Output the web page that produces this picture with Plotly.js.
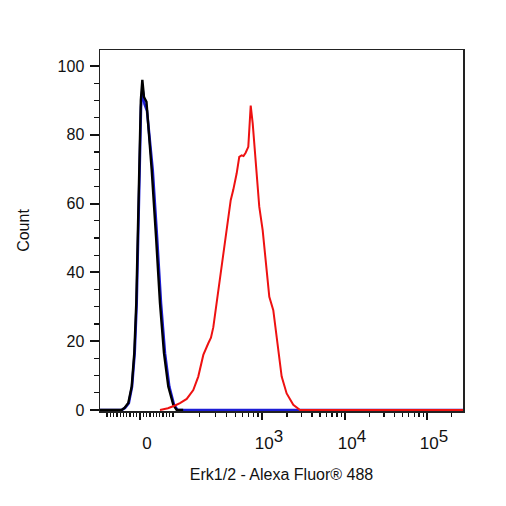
<!DOCTYPE html>
<html>
<head>
<meta charset="utf-8">
<script src="https://cdn.plot.ly/plotly-3.0.1.min.js"></script>
<style>
  html, body { margin: 0; padding: 0; background: #fff; }
  #chart { width: 506px; height: 506px; }
</style>
</head>
<body>
<div id="chart"></div>
<script>
// x values are positions on the biexponential display scale (1 unit ~ one decade, 0 at zero)
const blackX = [-0.482, -0.220, -0.187, -0.141, -0.100, -0.069, -0.045, -0.028, -0.016, -0.008, 0.010, 0.028, 0.048, 0.078, 0.102, 0.141, 0.193, 0.241, 0.289, 0.341, 0.401, 0.442, 0.52];
const blackY = [0, 0, 0.6, 2, 6.8, 16.5, 31, 50.4, 69.8, 79.5, 90, 96, 91, 89.6, 82, 69.8, 50.4, 31, 16.5, 6.8, 1.5, 0, 0];

const blueX = [-0.482, -0.220, -0.181, -0.135, -0.096, -0.064, -0.040, -0.024, -0.012, -0.002, 0.012, 0.030, 0.054, 0.084, 0.114, 0.153, 0.205, 0.253, 0.301, 0.353, 0.410, 0.452, 3.892];
const blueY = [0, 0, 0.6, 2, 6.8, 16.5, 31, 50.4, 69.8, 79.5, 88, 93.5, 89, 87, 80, 69.8, 50.4, 31, 16.5, 6.8, 1.5, 0, 0];

const redX = [0.241, 0.337, 0.422, 0.482, 0.563, 0.642, 0.702, 0.763, 0.823, 0.855, 0.883, 0.943, 0.984, 1.045, 1.093, 1.124, 1.165, 1.196, 1.225, 1.247, 1.273, 1.305, 1.334, 1.358, 1.406, 1.437, 1.478, 1.518, 1.558, 1.606, 1.647, 1.707, 1.767, 1.847, 1.928, 3.892];
const redY = [0, 0.5, 1.3, 2, 3.2, 5.8, 9.7, 16, 19.4, 21, 24, 34.9, 41.7, 52.3, 61, 64, 68.8, 73.6, 74, 73.8, 74.8, 76.5, 88.5, 83.3, 68.8, 59.1, 52.3, 42.6, 32.9, 29, 21.3, 9.7, 4.8, 1.5, 0, 0];

// axis: where each decade sits on the display scale
const decadeValues = [100, 1000, 10000, 100000];
const decadePos = [0.398, 1.470, 2.470, 3.458];
const labelValues = [0, 1000, 10000, 100000];
const labelText = ['0', '10<sup>3</sup>', '10<sup>4</sup>', '10<sup>5</sup>'];
const yTicks = [0, 20, 40, 60, 80, 100];

function scalePos(v) {
  const s = v < 0 ? -1 : 1, a = Math.abs(v);
  if (a <= decadeValues[0]) return s * a / decadeValues[0] * decadePos[0];
  for (let i = 0; i < decadeValues.length; i++) {
    const lo = decadeValues[i], p0 = decadePos[i];
    const p1 = i + 1 < decadePos.length ? decadePos[i + 1] : p0 + (decadePos[i] - decadePos[i - 1]);
    if (a <= lo * 10) return s * (p0 + Math.log10(a / lo) * (p1 - p0));
  }
  return s * decadePos[decadePos.length - 1];
}

const xRange = [-0.482, 3.892];
const majorPos = labelValues.map(scalePos);
// superscript drawn near full size, like the cytometry software does
const majorText = labelText.map(t => t.replace(/<sup>(.*?)<\/sup>/, '<sup><span style="font-size:17px">$1</span></sup>'));

const minorPos = [scalePos(-100), scalePos(100)];
for (let m = 1; m <= 9; m++) { minorPos.push(scalePos(m * 10), scalePos(-m * 10)); }
decadeValues.forEach(d => { for (let m = 2; m <= 9; m++) minorPos.push(scalePos(m * d)); });
const minorIn = minorPos.filter(p => p > xRange[0] && p < xRange[1]);

const font = 'Liberation Sans, Arial, sans-serif';
const ink = '#111';

const traces = [
  { type: 'scatter', mode: 'lines', x: blueX, y: blueY, line: { color: '#1c1cd6', width: 2.6 }, hoverinfo: 'skip' },
  { type: 'scatter', mode: 'lines', x: blackX, y: blackY, line: { color: '#000', width: 2.4 }, hoverinfo: 'skip' },
  { type: 'scatter', mode: 'lines', x: redX, y: redY, line: { color: '#ee1111', width: 2 }, hoverinfo: 'skip' }
];

const layout = {
  width: 506, height: 506,
  margin: { l: 100, r: 43, t: 50, b: 95 },
  paper_bgcolor: '#fff', plot_bgcolor: '#fff',
  showlegend: false,
  font: { family: font, color: ink },
  xaxis: {
    range: xRange, showgrid: false, zeroline: false,
    showline: true, linecolor: '#222', linewidth: 1.5, mirror: true,
    tickmode: 'array', tickvals: majorPos, ticktext: majorText,
    ticks: 'outside', ticklen: 7, tickwidth: 2, tickcolor: ink,
    tickfont: { family: font, size: 17, color: ink },
    ticklabelshift: 7, ticklabelstandoff: 9,
    minor: { tickmode: 'array', tickvals: minorIn, ticks: 'outside', ticklen: 4, tickwidth: 1.3, tickcolor: ink, showgrid: false },
    title: { text: 'Erk1/2 - Alexa Fluor® 488', font: { family: font, size: 16, color: ink }, standoff: 17 }
  },
  yaxis: {
    range: [-0.3, 104.65], showgrid: false, zeroline: false,
    showline: true, linecolor: '#222', linewidth: 1.5, mirror: true,
    tickmode: 'array', tickvals: yTicks, ticktext: yTicks.map(String),
    ticks: 'outside', ticklen: 9, tickwidth: 2, tickcolor: ink,
    tickfont: { family: font, size: 16, color: ink },
    ticklabelstandoff: 2,
    minor: { dtick: 5, ticks: 'outside', ticklen: 5, tickwidth: 1.3, tickcolor: ink, showgrid: false },
    title: { text: 'Count', font: { family: font, size: 16, color: ink }, standoff: 24 }
  }
};

Plotly.newPlot('chart', traces, layout, { displayModeBar: false, staticPlot: true });
</script>
</body>
</html>
